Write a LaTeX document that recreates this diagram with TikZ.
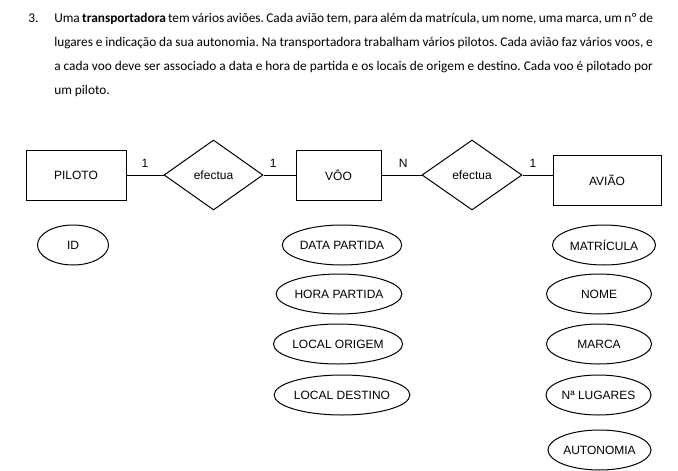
\documentclass[tikz,border=0pt]{standalone}
\usepackage{fontspec}
\setmainfont{Carlito}
\newfontfamily\diagfont{Liberation Sans}
\usetikzlibrary{shapes.geometric}
\frenchspacing
\begin{document}
\begin{tikzpicture}[x=0.75pt,y=-0.75pt,
  every node/.style={inner sep=0pt},
  para/.style={anchor=base west, font=\fontsize{10}{12}\selectfont},
  entity/.style={draw, line width=0.75pt, rectangle, minimum height=37.5pt, font=\diagfont\fontsize{9}{11}\selectfont},
  relation/.style={draw, line width=0.75pt, diamond, minimum height=52.5pt, font=\diagfont\fontsize{9}{11}\selectfont},
  attrib/.style={draw, line width=0.75pt, ellipse, minimum height=30pt, font=\diagfont\fontsize{9}{11}\selectfont},
  link/.style={line width=0.75pt},
  card/.style={above=5pt, font=\diagfont\fontsize{9}{11}\selectfont}
]
\useasboundingbox (0,0) rectangle (678,471);
\fill[white] (0,0) rectangle (678,471);

% question text
\node[para] (num) at (28,22) {3.};
\node[para] (l1) at (54,22) {\makebox[449pt][s]{Uma \textbf{transportadora} tem vários aviões. Cada avião tem, para além da matrícula, um nome, uma marca, um nº de}};
\node[para] (l2) at (54,46) {\makebox[449pt][s]{lugares e indicação da sua autonomia. Na transportadora trabalham vários pilotos. Cada avião faz vários voos, e}};
\node[para] (l3) at (54,70) {\makebox[449pt][s]{a cada voo deve ser associado a data e hora de partida e os locais de origem e destino. Cada voo é pilotado por}};
\node[para] (l4) at (54,94) {um piloto.};

% entities
\node[entity, minimum width=75pt] (pil) at (76,175) {PILOTO};
\node[entity, minimum width=63.75pt] (voo) at (338.5,175) {VÔO};
\node[entity, minimum width=81pt] (avi) at (607,180) {AVIÃO};

% relations
\node[relation, minimum width=74.25pt] (d1) at (213.5,175) {efectua};
\node[relation, minimum width=75pt] (d2) at (472,175) {efectua};

% connectors
\draw[link] (pil.east) -- node[card, pos=0.5] (c1) {1} (d1.west);
\draw[link] (d1.east) -- node[card, pos=0.30] (c2) {1} (voo.west);
\draw[link] (voo.east) -- node[card, pos=0.54] (c3) {N} (d2.west);
\draw[link] (d2.east) -- node[card, pos=0.35] (c4) {1} (d2.east -| avi.west);

% attributes
\node[attrib, minimum width=53.25pt] (id) at (73,245) {ID};
\node[attrib, minimum width=89.25pt] (dp) at (342,245) {DATA PARTIDA};
\node[attrib, minimum width=85.5pt] (hp) at (339,294) {HORA PARTIDA};
\node[attrib, minimum width=87pt] (lo) at (338,344) {LOCAL ORIGEM};
\node[attrib, minimum width=86.25pt] (ld) at (342,395) {LOCAL DESTINO};
\node[attrib, minimum width=77.25pt] (mat) at (604,245) {MATRÍCULA};
\node[attrib, minimum width=78.75pt] (nom) at (599,294) {NOME};
\node[attrib, minimum width=78.75pt] (mar) at (599,344) {MARCA};
\node[attrib, minimum width=78.75pt] (lug) at (598.5,395) {Nª LUGARES};
\node[attrib, minimum width=77.25pt] (aut) at (599.5,450) {AUTONOMIA};
\end{tikzpicture}
\end{document}
